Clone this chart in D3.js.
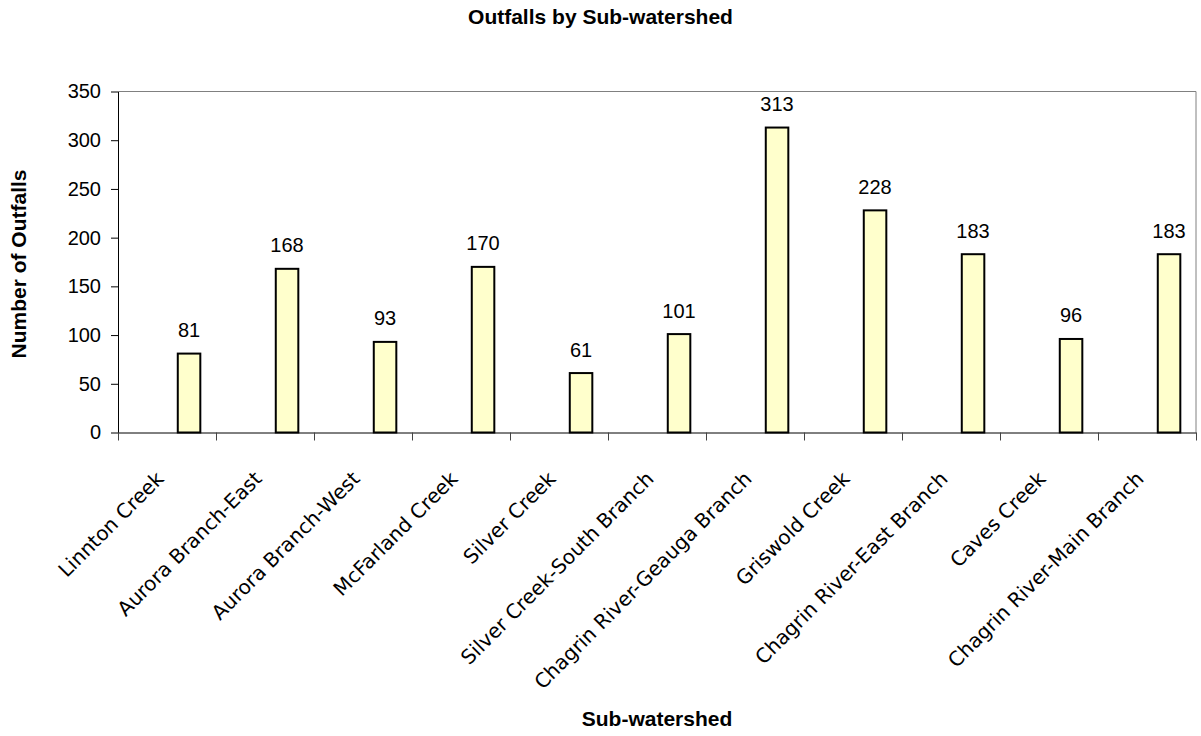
<!DOCTYPE html>
<html>
<head>
<meta charset="utf-8">
<script src="https://cdn.jsdelivr.net/npm/d3@7"></script>
<style>
  html, body { margin: 0; padding: 0; background: #fff; }
  svg { display: block; }
  .axis text { font-family: Arial, "Liberation Sans", sans-serif; font-size: 20px; fill: #000; }
</style>
</head>
<body>
<div id="chart"></div>
<script>
"use strict";

// chart data
const categories = [
    "Linnton Creek", "Aurora Branch-East", "Aurora Branch-West", "McFarland Creek",
    "Silver Creek", "Silver Creek-South Branch", "Chagrin River-Geauga Branch",
    "Griswold Creek", "Chagrin River-East Branch", "Caves Creek", "Chagrin River-Main Branch"
];
const outfalls = [81, 168, 93, 170, 61, 101, 313, 228, 183, 96, 183];
const yTicks = [0, 50, 100, 150, 200, 250, 300, 350];

const width = 1201, height = 736;
const plot = { left: 118, right: 1196, top: 91.5, bottom: 432.5 };

const svg = d3.select("#chart").append("svg")
    .attr("width", width)
    .attr("height", height);

// scales
const x = d3.scaleBand()
    .domain(categories)
    .range([plot.left, plot.right])
    .padding(0);
const xEdge = d3.scaleLinear()
    .domain([0, categories.length])
    .range([plot.left, plot.right]);
const y = d3.scaleLinear()
    .domain([0, 350])
    .range([plot.bottom, plot.top]);

// plot area border (top + right in gray)
svg.append("path")
    .attr("d", `M${plot.left},${plot.top}H${plot.right}V${plot.bottom}`)
    .attr("fill", "none")
    .attr("stroke", "#808080")
    .attr("stroke-width", 1);

// bars sit right of band centre, like the original
const bw = x.bandwidth();
svg.append("g").selectAll("rect")
    .data(outfalls)
    .enter().append("rect")
    .attr("x", (d, i) => x(categories[i]) + bw * 0.61)
    .attr("y", d => y(d))
    .attr("width", bw * 0.23)
    .attr("height", d => y(0) - y(d))
    .attr("fill", "#FFFFCC")
    .attr("stroke", "#000")
    .attr("stroke-width", 2);

// value labels
svg.append("g").selectAll("text")
    .data(outfalls)
    .enter().append("text")
    .attr("x", (d, i) => x(categories[i]) + bw * 0.725)
    .attr("y", d => y(d) - 16.5)
    .attr("text-anchor", "middle")
    .style("font-family", "Arial, 'Liberation Sans', sans-serif")
    .style("font-size", "20px")
    .text(d => d);

// y axis
const yAxis = svg.append("g")
    .attr("class", "axis")
    .attr("transform", `translate(${plot.left},0)`)
    .call(d3.axisLeft(y).tickValues(yTicks).tickSize(7).tickSizeOuter(0).tickPadding(10));
yAxis.select(".domain").attr("stroke", "#000");
yAxis.selectAll("line").attr("stroke", "#000");

// x axis: ticks on category boundaries
const xAxis = svg.append("g")
    .attr("class", "axis")
    .attr("transform", `translate(0,${plot.bottom})`)
    .call(d3.axisBottom(xEdge).tickValues(d3.range(categories.length + 1)).tickSize(8).tickSizeOuter(0).tickFormat(""));
xAxis.select(".domain").attr("stroke", "#000");
xAxis.selectAll("line").attr("stroke", "#444");

// rotated category labels
svg.append("g").selectAll("text")
    .data(categories)
    .enter().append("text")
    .attr("transform", d => `translate(${x(d) + bw / 2 - 2},480) rotate(-45)`)
    .attr("text-anchor", "end")
    .style("font-family", "'Comic Sans MS', 'DejaVu Sans', sans-serif")
    .style("font-size", "20px")
    .text(d => d);

// titles
svg.append("text")
    .attr("x", width / 2)
    .attr("y", 24)
    .attr("text-anchor", "middle")
    .style("font-family", "Arial, 'Liberation Sans', sans-serif")
    .style("font-size", "21px")
    .style("font-weight", "bold")
    .text("Outfalls by Sub-watershed");

svg.append("text")
    .attr("x", (plot.left + plot.right) / 2)
    .attr("y", 726)
    .attr("text-anchor", "middle")
    .style("font-family", "Arial, 'Liberation Sans', sans-serif")
    .style("font-size", "21px")
    .style("font-weight", "bold")
    .text("Sub-watershed");

svg.append("text")
    .attr("transform", "translate(26,264) rotate(-90)")
    .attr("text-anchor", "middle")
    .style("font-family", "Arial, 'Liberation Sans', sans-serif")
    .style("font-size", "21px")
    .style("font-weight", "bold")
    .text("Number of Outfalls");
</script>
</body>
</html>
